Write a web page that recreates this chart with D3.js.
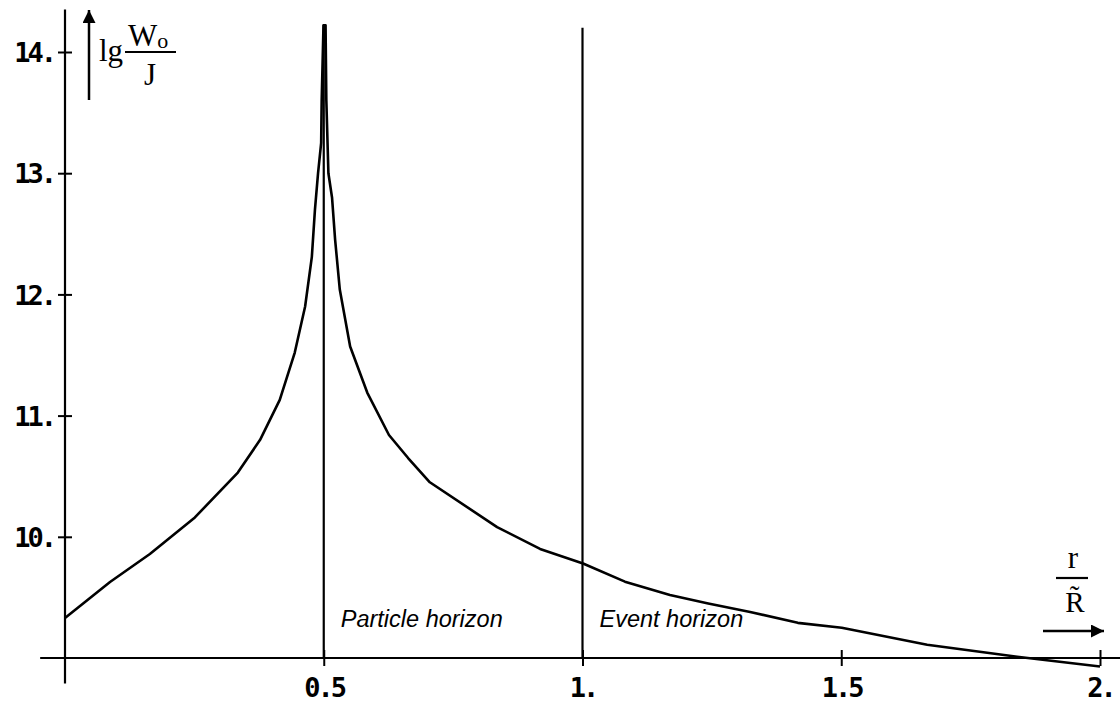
<!DOCTYPE html>
<html>
<head>
<meta charset="utf-8">
<script src="https://cdn.jsdelivr.net/npm/d3@7"></script>
<style>
  html, body { margin: 0; padding: 0; background: #fff; }
  svg { display: block; }
</style>
</head>
<body>
<svg id="chart" width="1120" height="706"></svg>
<script>
// ---- data ----
const rValues = [0, 0.087, 0.164, 0.251, 0.334, 0.377, 0.415, 0.444, 0.464, 0.477, 0.483, 0.489, 0.495, 0.496, 0.4995,
                 0.5035, 0.505, 0.509, 0.516, 0.522, 0.531, 0.551, 0.584, 0.626, 0.663, 0.705, 0.835, 0.918, 1.001,
                 1.082, 1.169, 1.243, 1.324, 1.416, 1.501, 1.666, 1.840, 2.0];
const lgValues = [9.33, 9.627, 9.858, 10.16, 10.53, 10.80, 11.13, 11.52, 11.90, 12.31, 12.70, 13.0, 13.25, 13.6, 14.22,
                  14.22, 13.6, 13.0, 12.80, 12.45, 12.04, 11.57, 11.19, 10.84, 10.65, 10.45, 10.08, 9.90, 9.78,
                  9.63, 9.52, 9.45, 9.38, 9.29, 9.25, 9.11, 9.01, 8.93];
const xTicks = [0.5, 1, 1.5, 2];
const xTickLabels = ["0.5", "1.", "1.5", "2."];
const yTicks = [10, 11, 12, 13, 14];
const yTickLabels = ["10.", "11.", "12.", "13.", "14."];
const horizons = [0.5, 1];
const horizonTops = [14.22, 14.2];
const horizonLabels = ["Particle horizon", "Event horizon"];

// ---- scales ----
const svg = d3.select("#chart");
const x = d3.scaleLinear().domain([0, 2]).range([65, 1100]);
const y = d3.scaleLinear().domain([9, 14]).range([658, 52]);
const stroke = "#000";
const tickFont = { family: "DejaVu Sans Mono", size: 27, spacing: -3 };

// ---- axes ----
const xAxis = d3.axisBottom(x).tickValues(xTicks)
  .tickFormat((d, i) => xTickLabels[i]).tickSizeOuter(0);
const gx = svg.append("g").attr("transform", `translate(0,${y(9)})`).call(xAxis);
gx.select(".domain").remove();
gx.selectAll(".tick line").attr("y1", -8).attr("y2", 8).attr("stroke", stroke).attr("stroke-width", 2);
gx.selectAll(".tick text").attr("y", 39).attr("dy", null)
  .attr("font-family", tickFont.family).attr("font-weight", "bold").attr("font-size", tickFont.size)
  .attr("letter-spacing", tickFont.spacing).attr("fill", "#000");

const yAxis = d3.axisLeft(y).tickValues(yTicks)
  .tickFormat((d, i) => yTickLabels[i]).tickSizeOuter(0);
const gy = svg.append("g").attr("transform", `translate(${x(0)},0)`).call(yAxis);
gy.select(".domain").remove();
gy.selectAll(".tick line").attr("x1", -7).attr("x2", 7).attr("stroke", stroke).attr("stroke-width", 2);
gy.selectAll(".tick text").attr("x", -11).attr("dy", "0.36em")
  .attr("font-family", tickFont.family).attr("font-weight", "bold").attr("font-size", tickFont.size)
  .attr("letter-spacing", tickFont.spacing).attr("fill", "#000");

// axis lines
svg.append("line").attr("x1", x(-0.048)).attr("x2", x(2.04)).attr("y1", y(9)).attr("y2", y(9))
  .attr("stroke", stroke).attr("stroke-width", 2.2);
svg.append("line").attr("x1", x(0)).attr("x2", x(0)).attr("y1", y(8.79)).attr("y2", y(14.35))
  .attr("stroke", stroke).attr("stroke-width", 2.2);

// ---- horizon lines ----
svg.selectAll(".hz").data(horizons).enter().append("line")
  .attr("x1", d => x(d)).attr("x2", d => x(d))
  .attr("y1", y(9)).attr("y2", (d, i) => y(horizonTops[i]))
  .attr("stroke", stroke).attr("stroke-width", 2.2);
svg.selectAll(".hzl").data(horizons).enter().append("text")
  .attr("x", d => x(d) + 17).attr("y", y(9) - 31)
  .attr("font-family", "Liberation Sans").attr("font-style", "italic").attr("font-size", 23.5)
  .text((d, i) => horizonLabels[i]);

// ---- curve ----
const pts = rValues.map((r, i) => [r, lgValues[i]]);
svg.append("path").datum(pts)
  .attr("d", d3.line().x(d => x(d[0])).y(d => y(d[1])))
  .attr("fill", "none").attr("stroke", stroke).attr("stroke-width", 2.6).attr("stroke-linejoin", "round");

// ---- arrow markers ----
const defs = svg.append("defs");
defs.append("marker").attr("id", "arrX").attr("viewBox", "0 0 10 10").attr("refX", 10).attr("refY", 5)
  .attr("markerWidth", 24).attr("markerHeight", 13).attr("markerUnits", "userSpaceOnUse")
  .attr("orient", "auto").append("path").attr("d", "M0,0 L10,5 L0,10 Z").attr("fill", "#000");
defs.append("marker").attr("id", "arrY").attr("viewBox", "0 0 10 10").attr("refX", 10).attr("refY", 5)
  .attr("markerWidth", 26).attr("markerHeight", 13).attr("markerUnits", "userSpaceOnUse")
  .attr("orient", "auto").append("path").attr("d", "M0,0 L10,5 L0,10 Z").attr("fill", "#000");

// y label arrow + label
svg.append("line").attr("x1", 89).attr("x2", 89).attr("y1", 100).attr("y2", 10)
  .attr("stroke", stroke).attr("stroke-width", 2.5).attr("marker-end", "url(#arrY)");
const serif = "Liberation Serif";
svg.append("text").attr("x", 99).attr("y", 61).attr("font-family", serif).attr("font-size", 31).text("lg");
svg.append("line").attr("x1", 125).attr("x2", 176).attr("y1", 52).attr("y2", 52).attr("stroke", stroke).attr("stroke-width", 2.2);
const wt = svg.append("text").attr("x", 128).attr("y", 46).attr("font-family", serif).attr("font-size", 31);
wt.append("tspan").text("W");
wt.append("tspan").attr("font-size", 22).attr("dy", 2).text("o");
svg.append("text").attr("x", 150).attr("y", 85).attr("text-anchor", "middle").attr("font-family", serif).attr("font-size", 31).text("J");

// x label r / R~ and arrow
svg.append("text").attr("x", 1073).attr("y", 568).attr("text-anchor", "middle").attr("font-family", serif).attr("font-size", 31).text("r");
svg.append("line").attr("x1", 1056).attr("x2", 1088).attr("y1", 578).attr("y2", 578).attr("stroke", stroke).attr("stroke-width", 2.2);
svg.append("text").attr("x", 1075).attr("y", 612).attr("text-anchor", "middle").attr("font-family", serif).attr("font-size", 29).text("R\u0303");
svg.append("line").attr("x1", 1043).attr("x2", 1104).attr("y1", 631).attr("y2", 631)
  .attr("stroke", stroke).attr("stroke-width", 2.5).attr("marker-end", "url(#arrX)");
</script>
</body>
</html>
